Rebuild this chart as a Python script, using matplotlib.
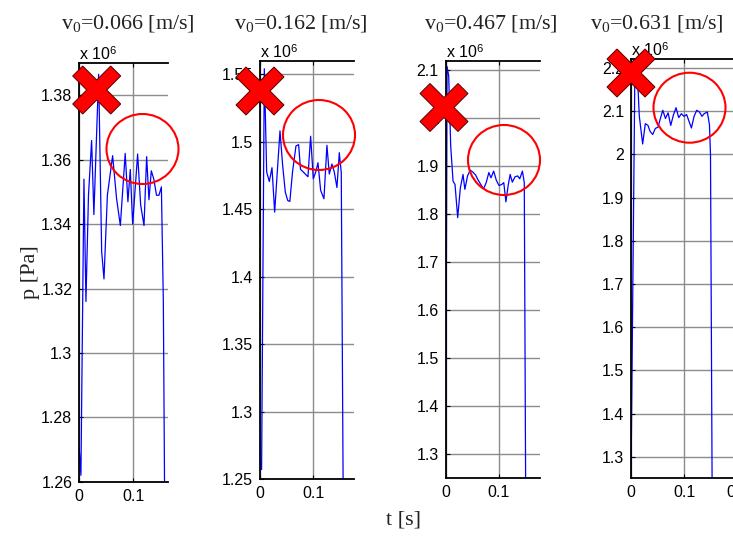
import matplotlib
matplotlib.use("Agg")
import matplotlib.pyplot as plt
from matplotlib.patches import Ellipse, Polygon

plt.rcParams['font.family'] = ['Liberation Sans', 'DejaVu Sans']
plt.rcParams['mathtext.fontset'] = 'custom'
plt.rcParams['mathtext.rm'] = 'Liberation Serif'
plt.rcParams['mathtext.it'] = 'Liberation Serif:italic'
plt.rcParams['mathtext.sf'] = 'Liberation Sans'

# pressure in units of 1e6 Pa, time in s
speeds = ["0.066", "0.162", "0.467", "0.631"]

t1 = [0.0, 0.003, 0.0086, 0.0123, 0.017, 0.0228, 0.027, 0.0358, 0.0414, 0.0457,
      0.052, 0.0617, 0.069, 0.076, 0.085, 0.090, 0.0944, 0.0988, 0.108, 0.1136,
      0.1198, 0.1247, 0.129, 0.1333, 0.138, 0.143, 0.1475, 0.152, 0.1556, 0.158]
p1 = [1.270, 1.262, 1.354, 1.316, 1.349, 1.366, 1.343, 1.3866, 1.3315, 1.323,
      1.349, 1.3613, 1.348, 1.3396, 1.362, 1.347, 1.357, 1.340, 1.3618, 1.346,
      1.3396, 1.361, 1.3476, 1.3566, 1.354, 1.349, 1.349, 1.3516, 1.316, 1.255]

t2 = [0.0, 0.003, 0.0081, 0.0125, 0.0175, 0.0225, 0.0275, 0.0375, 0.0425, 0.0475,
      0.052, 0.056, 0.061, 0.0675, 0.0725, 0.076, 0.0825, 0.090, 0.095, 0.100,
      0.105, 0.1088, 0.1138, 0.120, 0.1256, 0.130, 0.135, 0.1394, 0.1444, 0.1488,
      0.1525, 0.156]
p2 = [1.262, 1.257, 1.554, 1.4775, 1.4705, 1.4807, 1.4478, 1.508, 1.4824, 1.4626,
      1.4564, 1.4557, 1.4775, 1.4968, 1.4978, 1.4795, 1.477, 1.474, 1.504, 1.4725,
      1.478, 1.4844, 1.4639, 1.4577, 1.4973, 1.476, 1.4834, 1.4775, 1.466, 1.4918,
      1.477, 1.245]

t3 = [0.0, 0.0025, 0.0056, 0.0094, 0.0138, 0.0175, 0.0225, 0.0275, 0.0325, 0.036,
      0.041, 0.046, 0.051, 0.056, 0.061, 0.066, 0.071, 0.076, 0.081, 0.085,
      0.090, 0.095, 0.100, 0.105, 0.109, 0.113, 0.1175, 0.121, 0.125, 0.130,
      0.135, 0.139, 0.144, 0.1475, 0.150]
p3 = [1.25, 2.108, 2.089, 1.942, 1.869, 1.862, 1.793, 1.855, 1.883, 1.852,
      1.880, 1.892, 1.888, 1.882, 1.871, 1.862, 1.853, 1.866, 1.887, 1.876,
      1.890, 1.871, 1.860, 1.862, 1.866, 1.826, 1.862, 1.883, 1.867, 1.878,
      1.880, 1.874, 1.890, 1.866, 1.245]

t4 = [0.0, 0.0075, 0.012, 0.0157, 0.022, 0.027, 0.032, 0.036, 0.041, 0.046,
      0.051, 0.055, 0.060, 0.065, 0.070, 0.075, 0.080, 0.085, 0.090, 0.095,
      0.100, 0.105, 0.109, 0.114, 0.119, 0.124, 0.129, 0.134, 0.138, 0.144,
      0.148, 0.150, 0.153]
p4 = [1.25, 2.216, 2.185, 2.088, 2.024, 2.071, 2.067, 2.053, 2.046, 2.060,
      2.063, 2.081, 2.102, 2.083, 2.096, 2.067, 2.091, 2.108, 2.085, 2.094,
      2.088, 2.092, 2.078, 2.061, 2.088, 2.102, 2.098, 2.088, 2.094, 2.098,
      2.069, 1.999, 1.245]

times = [t1, t2, t3, t4]
pressures = [p1, p2, p3, p4]

ylims = [(1.26, 1.39), (1.25, 1.56), (1.25, 2.12), (1.25, 2.22)]
yticks = [[1.26, 1.28, 1.30, 1.32, 1.34, 1.36, 1.38],
          [1.25, 1.30, 1.35, 1.40, 1.45, 1.50, 1.55],
          [1.3, 1.4, 1.5, 1.6, 1.7, 1.8, 1.9, 2.0, 2.1],
          [1.3, 1.4, 1.5, 1.6, 1.7, 1.8, 1.9, 2.0, 2.1, 2.2]]
xlims = [(0, 0.1648), (0, 0.1764), (0, 0.177), (0, 0.21)]
xticks = [[0, 0.1], [0, 0.1], [0, 0.1], [0, 0.1, 0.2]]

W, H = 733, 539
fig = plt.figure(figsize=(W / 100, H / 100), dpi=100)

# axes boxes in pixels: left, top, right, bottom
boxes = [(79.3, 63.3, 168.3, 481.7),
         (260.0, 60.7, 354.0, 479.0),
         (445.7, 60.7, 540.0, 478.3),
         (631.0, 59.3, 742.3, 478.3)]
title_x = [128, 301, 491, 657]

for i in range(4):
    l, t, r, b = boxes[i]
    ax = fig.add_axes([l / W, 1 - b / H, (r - l) / W, (b - t) / H])
    ax.plot(times[i], pressures[i], color='#0000ff', lw=0.9)
    ax.set_xlim(xlims[i])
    ax.set_ylim(ylims[i])
    ax.set_xticks(xticks[i])
    ax.set_yticks(yticks[i])
    ax.xaxis.set_major_formatter(plt.FormatStrFormatter('%g'))
    ax.yaxis.set_major_formatter(plt.FormatStrFormatter('%g'))
    ax.grid(True, color='#8c8c8c', lw=1.0)
    ax.set_axisbelow(True)
    ax.tick_params(direction='in', length=3, top=True, right=False,
                   labelsize=11.5, pad=5, colors='black')
    ax.spines['right'].set_visible(False)
    for s in ['top', 'left', 'bottom']:
        ax.spines[s].set_linewidth(1.3)
    ax.text(0.0, 1.0, r'x 10$^{\mathsf{6}}$', transform=ax.transAxes,
            ha='left', va='bottom', fontsize=11.5)
    fig.text(title_x[i] / W, 1 - 28 / H, r'v$_{0}$=' + speeds[i] + ' [m/s]',
             ha='center', va='baseline', fontsize=15.8, color='#222222',
             family='Liberation Serif')

fig.text(30 / W, 1 - 272 / H, 'p [Pa]', rotation=90, ha='center', va='center',
         fontsize=16, color='#222222', family='Liberation Serif')
fig.text(403 / W, 1 - 525 / H, 't [s]', ha='center', va='baseline',
         fontsize=16, color='#222222', family='Liberation Serif')

# red annotations (pixel centers)
crosses = [(96.7, 90), (260, 91), (444, 107.5), (631, 73)]
circles = [(142.5, 149), (319, 135), (504, 160), (689.5, 107.7)]

d, s = 19.0, 5.0
x_shape = [(0, 2 * s), (d - s, d + s), (d + s, d - s), (2 * s, 0),
           (d + s, -d + s), (d - s, -d - s), (0, -2 * s), (-d + s, -d - s),
           (-d - s, -d + s), (-2 * s, 0), (-d - s, d - s), (-d + s, d + s)]
for cx, cy in crosses:
    pts = [((cx + dx) / W, 1 - (cy + dy) / H) for dx, dy in x_shape]
    fig.patches.append(Polygon(pts, closed=True, transform=fig.transFigure,
                               facecolor='#ff0000', edgecolor='#550000', lw=0.7))
for cx, cy in circles:
    fig.patches.append(Ellipse((cx / W, 1 - cy / H), 72 / W, 70 / H,
                               transform=fig.transFigure, fill=False,
                               edgecolor='#ff0000', lw=1.5))

fig.savefig('out.png', dpi=100)
